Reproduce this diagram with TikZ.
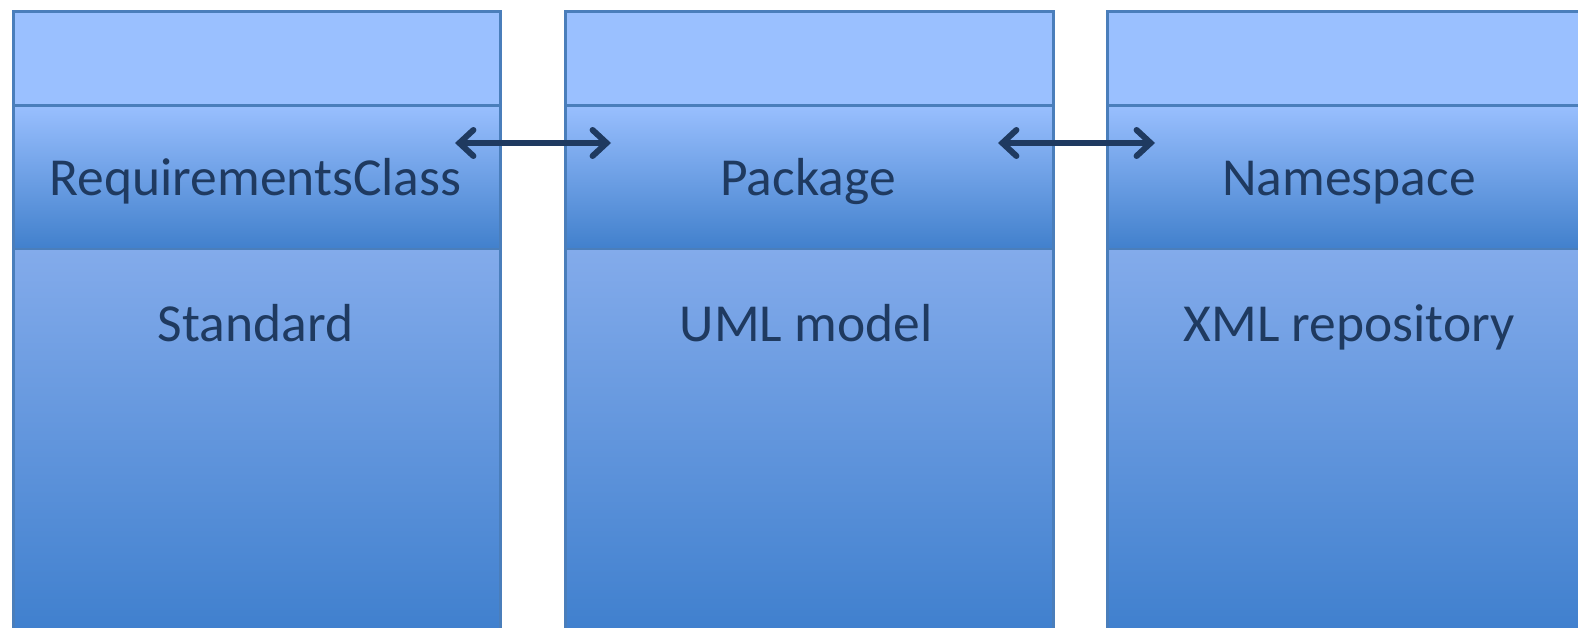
\documentclass[tikz,border=0pt]{standalone}
\usepackage{fontspec}
\setmainfont{Carlito}
\usetikzlibrary{arrows.meta}
\definecolor{bordc}{HTML}{4A7EBB}
\definecolor{topc}{HTML}{9AC0FF}
\definecolor{midtop}{HTML}{99BFFE}
\definecolor{midmid}{HTML}{7AA4E6}
\definecolor{midbot}{HTML}{4180CC}
\definecolor{bottop}{HTML}{83ABEB}
\definecolor{botmid}{HTML}{5F93DA}
\definecolor{botbot}{HTML}{4080CE}
\definecolor{txtc}{HTML}{1F3A60}
\tikzset{
  topband/.style={draw=bordc, line width=3pt, fill=topc, minimum width=#1, minimum height=94pt, inner sep=0pt, anchor=north west},
  midband/.style={draw=bordc, line width=2.5pt, top color=midtop, middle color=midmid, bottom color=midbot, minimum width=#1, minimum height=144pt, inner sep=0pt, anchor=north west},
  botband/.style={draw=bordc, line width=2.5pt, top color=bottop, middle color=botmid, bottom color=botbot, minimum width=#1, minimum height=380pt, inner sep=0pt, anchor=north west},
  lbl/.style={text=txtc, font=\fontsize{53.5}{64}\selectfont, anchor=base, inner sep=0pt},
  link/.style={draw=txtc, line width=6pt, {Straight Barb[length=14pt,width=26pt,line cap=round]}-{Straight Barb[length=14pt,width=26pt,line cap=round]}}
}
\begin{document}
\begin{tikzpicture}[x=1pt,y=-1pt]
\useasboundingbox (0,0) rectangle (1578,628);
\clip (0,0) rectangle (1578,628);
\fill[white] (0,0) rectangle (1578,628);
% column 1
\node[botband=487pt] (b1) at (12,248) {};
\node[midband=487pt] (m1) at (12,104) {};
\node[topband=487pt] (t1) at (12,10) {};
% column 2
\node[botband=488pt] (b2) at (564,248) {};
\node[midband=488pt] (m2) at (564,104) {};
\node[topband=488pt] (t2) at (564,10) {};
% column 3
\node[botband=488pt] (b3) at (1106,248) {};
\node[midband=488pt] (m3) at (1106,104) {};
\node[topband=488pt] (t3) at (1106,10) {};
% labels
\node[lbl] (l1) at (255.5,196) {RequirementsClass};
\node[lbl] (l2) at (808,196) {Package};
\node[lbl] (l3) at (1349,196) {Namespace};
\node[lbl] (s1) at (255.5,341) {Standard};
\node[lbl] (s2) at (806,341) {UML model};
\node[lbl] (s3) at (1349,341) {XML repository};
% arrows
\coordinate (a1s) at (455,143);
\coordinate (a1e) at (611,143);
\coordinate (a2s) at (998,143);
\coordinate (a2e) at (1155,143);
\draw[link] (a1s) -- (a1e);
\draw[link] (a2s) -- (a2e);
\end{tikzpicture}
\end{document}
